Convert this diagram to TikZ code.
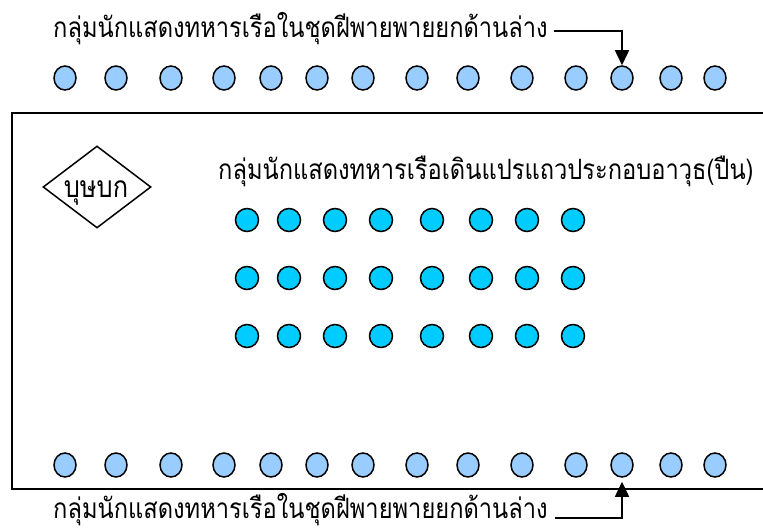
\documentclass[tikz,border=0pt]{standalone}
\usepackage{fontspec}
\newfontfamily\thaifont[Script=Thai,FakeStretch=0.845]{Loma}
\usetikzlibrary{positioning,arrows.meta,shapes.geometric}
\definecolor{paddleblue}{HTML}{99CCFF}
\definecolor{rifleblue}{HTML}{00CCFF}

\begin{document}
\begin{tikzpicture}[
            x=1pt, y=-1pt,
            rower/.style={ellipse, draw, line width=1.5pt, fill=paddleblue, minimum width=22pt, minimum height=24pt, inner sep=0pt},
            marcher/.style={circle, draw, line width=1.5pt, fill=rifleblue, minimum size=23pt, inner sep=0pt},
            thaitext/.style={font=\thaifont\fontsize{28}{30}\selectfont, inner sep=0pt, anchor=base west},
            arrow/.style={-{Triangle[width=14pt,length=15pt]}, line width=1.5pt}
        ]
        \useasboundingbox (0,0) rectangle (763,529);
        \draw[line width=1.7pt] (12,113) rectangle (775,489);
        % rowers above and below the stage
        \foreach \x [count=\i] in {65,116,171,224,271,317,363,417,468,522,576,622,671,715} {
            \node[rower] (top\i) at (\x,78) {};
            \node[rower] (bot\i) at (\x,465) {};
        }
        % marching sailors
        \foreach \y [count=\j] in {220,278,336} {
            \foreach \x [count=\i] in {247,289,335,381,432,481,527,573} {
                \node[marcher] (row\j col\i) at (\x,\y) {};
            }
        }
        \node[diamond, draw, line width=1.5pt, minimum width=108pt, minimum height=82pt, inner sep=0pt] (busabok) at (97,187) {};
        \node[thaitext, anchor=base, font=\thaifont\fontsize{30}{32}\selectfont] at (96,198) {บุษบก};
        \node[thaitext] (toptext) at (53,38) {กลุ่มนักแสดงทหารเรือในชุดฝีพายพายยกด้านล่าง};
        \node[thaitext] (midtext) at (218,180) {กลุ่มนักแสดงทหารเรือเดินแปรแถวประกอบอาวุธ(ปืน)};
        \node[thaitext] (bottext) at (53,518) {กลุ่มนักแสดงทหารเรือในชุดฝีพายพายยกด้านล่าง};
        \coordinate (topstart) at (554,31);
        \coordinate (botstart) at (555,518);
        \draw[arrow] (topstart) -| (top12.north);
        \draw[arrow, shorten >=4pt] (botstart) -| (bot12.south);
\end{tikzpicture}
\end{document}
